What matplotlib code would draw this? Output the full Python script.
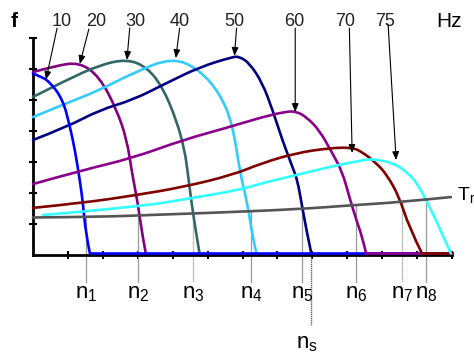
import numpy as np
import matplotlib.pyplot as plt
import matplotlib.transforms as mtransforms
from matplotlib.path import Path
from matplotlib.patches import PathPatch

plt.rcParams['font.family'] = ['Liberation Sans', 'DejaVu Sans']

# family of curves f(n) for each supply frequency (x and y in axis tick units)
freqs = ['10', '20', '30', '40', '50', '60', '70', '75']
colors = ['#0000FF', '#800080', '#336666', '#33CCFF', '#000080', '#8B008B', '#800000', '#33FFFF']

x10 = [0, 0.2, 0.49, 0.86, 1.06, 1.2, 1.34, 1.43, 1.51, 1.63]
y10 = [5.85, 5.77, 5.58, 5.0, 4.13, 3.39, 2.42, 1.68, 0.71, 0.05]
x20 = [0, 0.63, 1.34, 1.91, 2.4, 2.69, 2.83, 3.0, 3.14, 3.23]
y20 = [5.9, 6.1, 6.22, 5.74, 4.68, 3.71, 2.68, 1.68, 0.58, 0.05]
x30 = [0, 0.97, 1.91, 2.69, 3.26, 3.71, 4.11, 4.34, 4.43, 4.54, 4.69, 4.77]
y30 = [5.1, 5.65, 6.13, 6.32, 6.06, 5.42, 4.35, 3.39, 2.68, 1.68, 0.58, 0.05]
x40 = [0, 0.97, 1.91, 2.86, 4.0, 4.77, 5.34, 5.71, 5.94, 6.14, 6.29, 6.4]
y40 = [4.45, 4.9, 5.32, 5.87, 6.38, 5.97, 5.23, 4.26, 2.58, 1.68, 0.58, 0.05]
x50 = [0, 0.97, 1.91, 2.86, 3.83, 4.77, 5.71, 5.91, 6.2, 6.57, 6.86, 7.14, 7.43, 7.57, 7.69, 7.83, 7.97]
y50 = [3.71, 4.13, 4.68, 5.0, 5.55, 6.06, 6.39, 6.4, 6.19, 5.55, 4.68, 3.71, 2.84, 2.42, 1.68, 0.81, 0.05]
x60 = [0, 1.43, 2.86, 4.29, 5.63, 6.57, 7.26, 7.54, 7.83, 8.2, 8.57, 8.86, 9.06, 9.26, 9.43, 9.54]
y60 = [2.29, 2.74, 3.13, 3.71, 4.13, 4.45, 4.63, 4.63, 4.45, 4.03, 3.29, 2.68, 1.87, 1.13, 0.58, 0.05]
x70 = [0, 1.43, 3.0, 4.29, 5.71, 6.57, 7.54, 8.49, 9.14, 9.43, 9.83, 10.14, 10.49, 10.77, 11.14]
y70 = [1.52, 1.68, 1.94, 2.19, 2.58, 2.97, 3.29, 3.45, 3.47, 3.32, 2.97, 2.58, 1.87, 0.9, 0.05]
x75 = [0.29, 3.0, 4.57, 5.91, 6.57, 7.54, 8.49, 9.43, 9.77, 10.4, 10.86, 11.06, 11.26, 11.54, 11.83, 11.97]
y75 = [1.29, 1.55, 1.84, 2.1, 2.32, 2.58, 2.84, 3.06, 3.1, 2.94, 2.52, 2.19, 1.77, 1.13, 0.39, 0.05]

curves_x = [x10, x20, x30, x40, x50, x60, x70, x75]
curves_y = [y10, y20, y30, y40, y50, y60, y70, y75]
draw_order = [1, 2, 3, 4, 0, 5, 6, 7]
# curves whose zero part stays visible along the n axis
tail_curves = [0, 5, 6]
tail_end = 12.0

# load torque line
x_tr = [0, 1.91, 3.34, 5.34, 7.63, 9.2, 10.57, 11.97]
y_tr = [1.21, 1.23, 1.29, 1.37, 1.48, 1.61, 1.71, 1.87]

# label positions and arrow start/end
lab_x = [0.83, 1.8, 2.94, 4.2, 5.77, 7.49, 8.94, 10.09]
arr_start = [(0.69, 7.32), (1.6, 7.29), (2.77, 7.32), (4.2, 7.32),
             (5.83, 7.32), (7.51, 7.32), (9.06, 7.32), (10.17, 7.45)]
arr_end = [(0.37, 5.65), (1.34, 6.16), (2.69, 6.29), (4.09, 6.35),
           (5.77, 6.42), (7.51, 4.61), (9.14, 3.29), (10.4, 3.06)]

# operating speeds n1..n8 and the synchronous speed ns
n_labels = ['1', '2', '3', '4', '5', '6', '7', '8']
n_x = [1.51, 3.0, 4.57, 6.23, 7.71, 9.26, 10.57, 11.26]
n_top = [1.23, 1.26, 1.32, 1.42, 1.48, 1.61, 1.71, 1.81]
n_dotted = [False, False, True, False, False, False, True, False]
ns_x = 7.97


def smooth(ax, xs, ys, color):
    # quadratic bezier through midpoints, so the hand-drawn curves look rounded
    pts = list(zip(xs, ys))
    verts = [pts[0]]
    codes = [Path.MOVETO]
    for i in range(1, len(pts) - 1):
        mid = ((pts[i][0] + pts[i + 1][0]) / 2, (pts[i][1] + pts[i + 1][1]) / 2)
        if i == len(pts) - 2:
            mid = pts[-1]
        verts += [pts[i], mid]
        codes += [Path.CURVE3, Path.CURVE3]
    ax.add_patch(PathPatch(Path(verts, codes), fill=False, edgecolor=color, lw=1.9,
                           clip_on=False, zorder=3, capstyle='round', joinstyle='round'))


fig = plt.figure(figsize=(4.74, 3.54), dpi=100)
ax = fig.add_axes([33 / 474, 99 / 354, 419 / 474, 217 / 354])
ax.set_xlim(0, 12)
ax.set_ylim(0, 7)

for i in draw_order:
    smooth(ax, curves_x[i], curves_y[i], colors[i])
    if i in tail_curves:
        ax.plot([curves_x[i][-1], tail_end], [curves_y[i][-1], curves_y[i][-1]],
                color=colors[i], lw=1.9, clip_on=False, zorder=3)
smooth(ax, x_tr, y_tr, '#555555')

for i in range(len(n_x)):
    ls = (0, (1, 0.6)) if n_dotted[i] else '-'
    ax.plot([n_x[i], n_x[i]], [n_top[i], -0.88], color='#999999', lw=0.9, ls=ls,
            clip_on=False, zorder=2)
    tr = mtransforms.offset_copy(ax.transData, fig=fig, x=-11, y=0, units='dots')
    ax.text(n_x[i], -1.39, r'$\mathregular{n_{%s}}$' % n_labels[i], transform=tr,
            ha='left', va='baseline', fontsize=16)
ax.plot([ns_x, ns_x], [0, -2.26], color='#666666', lw=1.0, ls=(0, (1, 0.5)),
        clip_on=False, zorder=2)
tr = mtransforms.offset_copy(ax.transData, fig=fig, x=-15, y=0, units='dots')
ax.text(ns_x, -3.0, r'$\mathregular{n_{s}}$', transform=tr, ha='left', va='baseline', fontsize=16)

for i in range(len(freqs)):
    ax.text(lab_x[i], 7.39, freqs[i], ha='center', va='baseline', fontsize=13, color='#222222')
    ax.annotate('', xy=arr_end[i], xytext=arr_start[i], annotation_clip=False,
                arrowprops=dict(arrowstyle='-|>,head_length=0.5,head_width=0.2',
                                color='black', lw=0.8, shrinkA=0, shrinkB=0))

ax.text(11.91, 7.35, 'Hz', ha='center', va='baseline', fontsize=15)
ax.text(-0.54, 7.35, 'f', ha='center', va='baseline', fontsize=15, fontweight='bold')
ax.text(12.13, 1.77, r'$\mathregular{T_{r}}$', ha='left', va='baseline', fontsize=14)

for s in ['top', 'right']:
    ax.spines[s].set_visible(False)
ax.spines['left'].set_linewidth(2)
ax.spines['bottom'].set_linewidth(2)
ax.set_xticks(np.arange(1, 13))
ax.set_yticks(np.arange(1, 8))
ax.tick_params(direction='inout', length=6, width=1.5, labelbottom=False, labelleft=False)

fig.savefig('out.png', dpi=100)
